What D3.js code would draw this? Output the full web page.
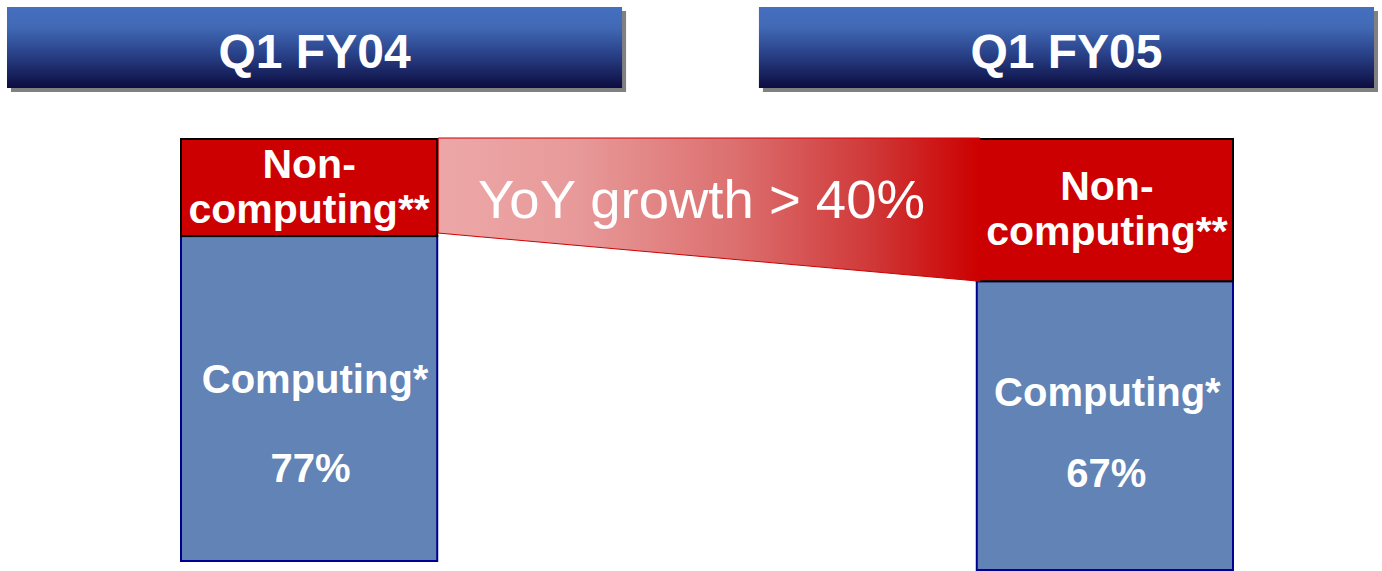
<!DOCTYPE html>
<html>
<head>
<meta charset="utf-8">
<script src="https://cdn.jsdelivr.net/npm/d3@7"></script>
<style>
  html, body { margin: 0; padding: 0; background: #ffffff; }
  svg { display: block; }
  text { font-family: "Liberation Sans", Arial, sans-serif; }
</style>
</head>
<body>
<svg id="chart" width="1382" height="571"></svg>
<script>
// Share of revenue by segment, first quarter of each fiscal year
const periods = ["Q1 FY04", "Q1 FY05"];
const computingShare = [77, 67];
const nonComputingShare = [23, 33];
const computingLabel = "Computing*";
const nonComputingLabel = ["Non-", "computing**"];
const growthLabel = "YoY growth > 40%";

const svg = d3.select("#chart");
const defs = svg.append("defs");

// Header gradient (light blue at top, deep navy at bottom)
const hg = defs.append("linearGradient").attr("id", "hdrGrad")
  .attr("x1", 0).attr("y1", 0).attr("x2", 0).attr("y2", 1);
hg.append("stop").attr("offset", "0%").attr("stop-color", "#4570c0");
hg.append("stop").attr("offset", "25%").attr("stop-color", "#4169b5");
hg.append("stop").attr("offset", "60%").attr("stop-color", "#283f85");
hg.append("stop").attr("offset", "100%").attr("stop-color", "#0c0c40");

// Growth band gradient (pale pink to full red)
const gg = defs.append("linearGradient").attr("id", "growGrad")
  .attr("x1", 0).attr("y1", 0).attr("x2", 1).attr("y2", 0);
gg.append("stop").attr("offset", "0%").attr("stop-color", "#eda7a7");
gg.append("stop").attr("offset", "25%").attr("stop-color", "#e89a9a");
gg.append("stop").attr("offset", "55%").attr("stop-color", "#dc6f6f");
gg.append("stop").attr("offset", "80%").attr("stop-color", "#d03838");
gg.append("stop").attr("offset", "100%").attr("stop-color", "#cc0000");

// Period headers
const xHeader = d3.scaleBand().domain(periods).range([7, 1374]).paddingInner(0.182);
const headerTop = 7, headerH = 81;

const headers = svg.append("g").selectAll("g").data(periods).join("g");
headers.append("rect")
  .attr("x", d => xHeader(d) + 4).attr("y", headerTop + 4)
  .attr("width", xHeader.bandwidth()).attr("height", headerH)
  .attr("fill", "#808080");
headers.append("rect")
  .attr("x", d => xHeader(d)).attr("y", headerTop)
  .attr("width", xHeader.bandwidth()).attr("height", headerH)
  .attr("fill", "url(#hdrGrad)");
headers.append("text")
  .attr("x", d => xHeader(d) + xHeader.bandwidth() / 2)
  .attr("y", headerTop + 61)
  .attr("text-anchor", "middle")
  .attr("fill", "#ffffff").attr("font-weight", "bold").attr("font-size", 48)
  .text(d => d);

// Stacked 100% bars
const xBar = d3.scaleBand().domain(periods).range([181, 1233]).paddingInner(0.678);
const barTop = 139;
const barBottoms = [561, 570];
const yScales = barBottoms.map(b => d3.scaleLinear().domain([0, 100]).range([b, barTop]));

const bars = periods.map((p, i) => ({
  period: p,
  x: xBar(p),
  w: xBar.bandwidth(),
  y: yScales[i],
  comp: computingShare[i],
  non: nonComputingShare[i]
}));
const a = bars[0], b = bars[1];

const barG = svg.append("g");
// Computing segment
barG.selectAll("rect.comp").data(bars).join("rect").attr("class", "comp")
  .attr("x", d => d.x).attr("y", d => d.y(d.comp))
  .attr("width", d => d.w).attr("height", d => d.y(0) - d.y(d.comp))
  .attr("fill", "#6183b6").attr("stroke", "#000090").attr("stroke-width", 2);
// Non-computing segment
barG.selectAll("rect.non").data(bars).join("rect").attr("class", "non")
  .attr("x", d => d.x).attr("y", d => d.y(d.comp + d.non))
  .attr("width", d => d.w).attr("height", d => d.y(d.comp) - d.y(d.comp + d.non))
  .attr("fill", "#cc0000").attr("stroke", "#000000").attr("stroke-width", 2);

// Growth band joining the two non-computing segments
const bandPts = [
  [a.x + a.w + 1, a.y(100) - 1],
  [b.x + 3, b.y(100) - 1],
  [b.x + 3, b.y(b.comp)],
  [a.x + a.w + 1, a.y(a.comp) - 3]
];
svg.append("path")
  .attr("d", d3.line()(bandPts) + "Z")
  .attr("fill", "url(#growGrad)")
  .attr("stroke", "#cc0000").attr("stroke-width", 1);
svg.append("text")
  .attr("x", 478).attr("y", 218)
  .attr("fill", "#ffffff").attr("font-size", 54.5)
  .text(growthLabel);

// Segment labels
const labelG = svg.append("g").attr("fill", "#ffffff").attr("font-weight", "bold")
  .attr("text-anchor", "middle");

const nonShift = [0, 2];
labelG.selectAll("text.non").data(bars).join("text").attr("class", "non")
  .attr("font-size", 41)
  .attr("y", d => (d.y(d.comp) + d.y(100)) / 2 - 10)
  .selectAll("tspan").data((d, i) => nonComputingLabel.map((t, k) => ({ t, k, d, i })))
  .join("tspan")
  .attr("x", o => o.d.x + o.d.w / 2 + nonShift[o.i])
  .attr("dy", o => o.k === 0 ? 0 : 45)
  .text(o => o.t);

const compShift = [[6, -6], [2.5, -20]];
labelG.selectAll("text.comp").data(bars).join("text").attr("class", "comp")
  .attr("font-size", 40)
  .attr("x", (d, i) => d.x + d.w / 2 + compShift[i][0])
  .attr("y", (d, i) => d.y(d.comp / 2) + compShift[i][1])
  .text(computingLabel);

const pctShift = [[1.5, 83], [1.5, 61]];
labelG.selectAll("text.pct").data(bars).join("text").attr("class", "pct")
  .attr("font-size", 40)
  .attr("x", (d, i) => d.x + d.w / 2 + pctShift[i][0])
  .attr("y", (d, i) => d.y(d.comp / 2) + pctShift[i][1])
  .text(d => d.comp + "%");
</script>
</body>
</html>
